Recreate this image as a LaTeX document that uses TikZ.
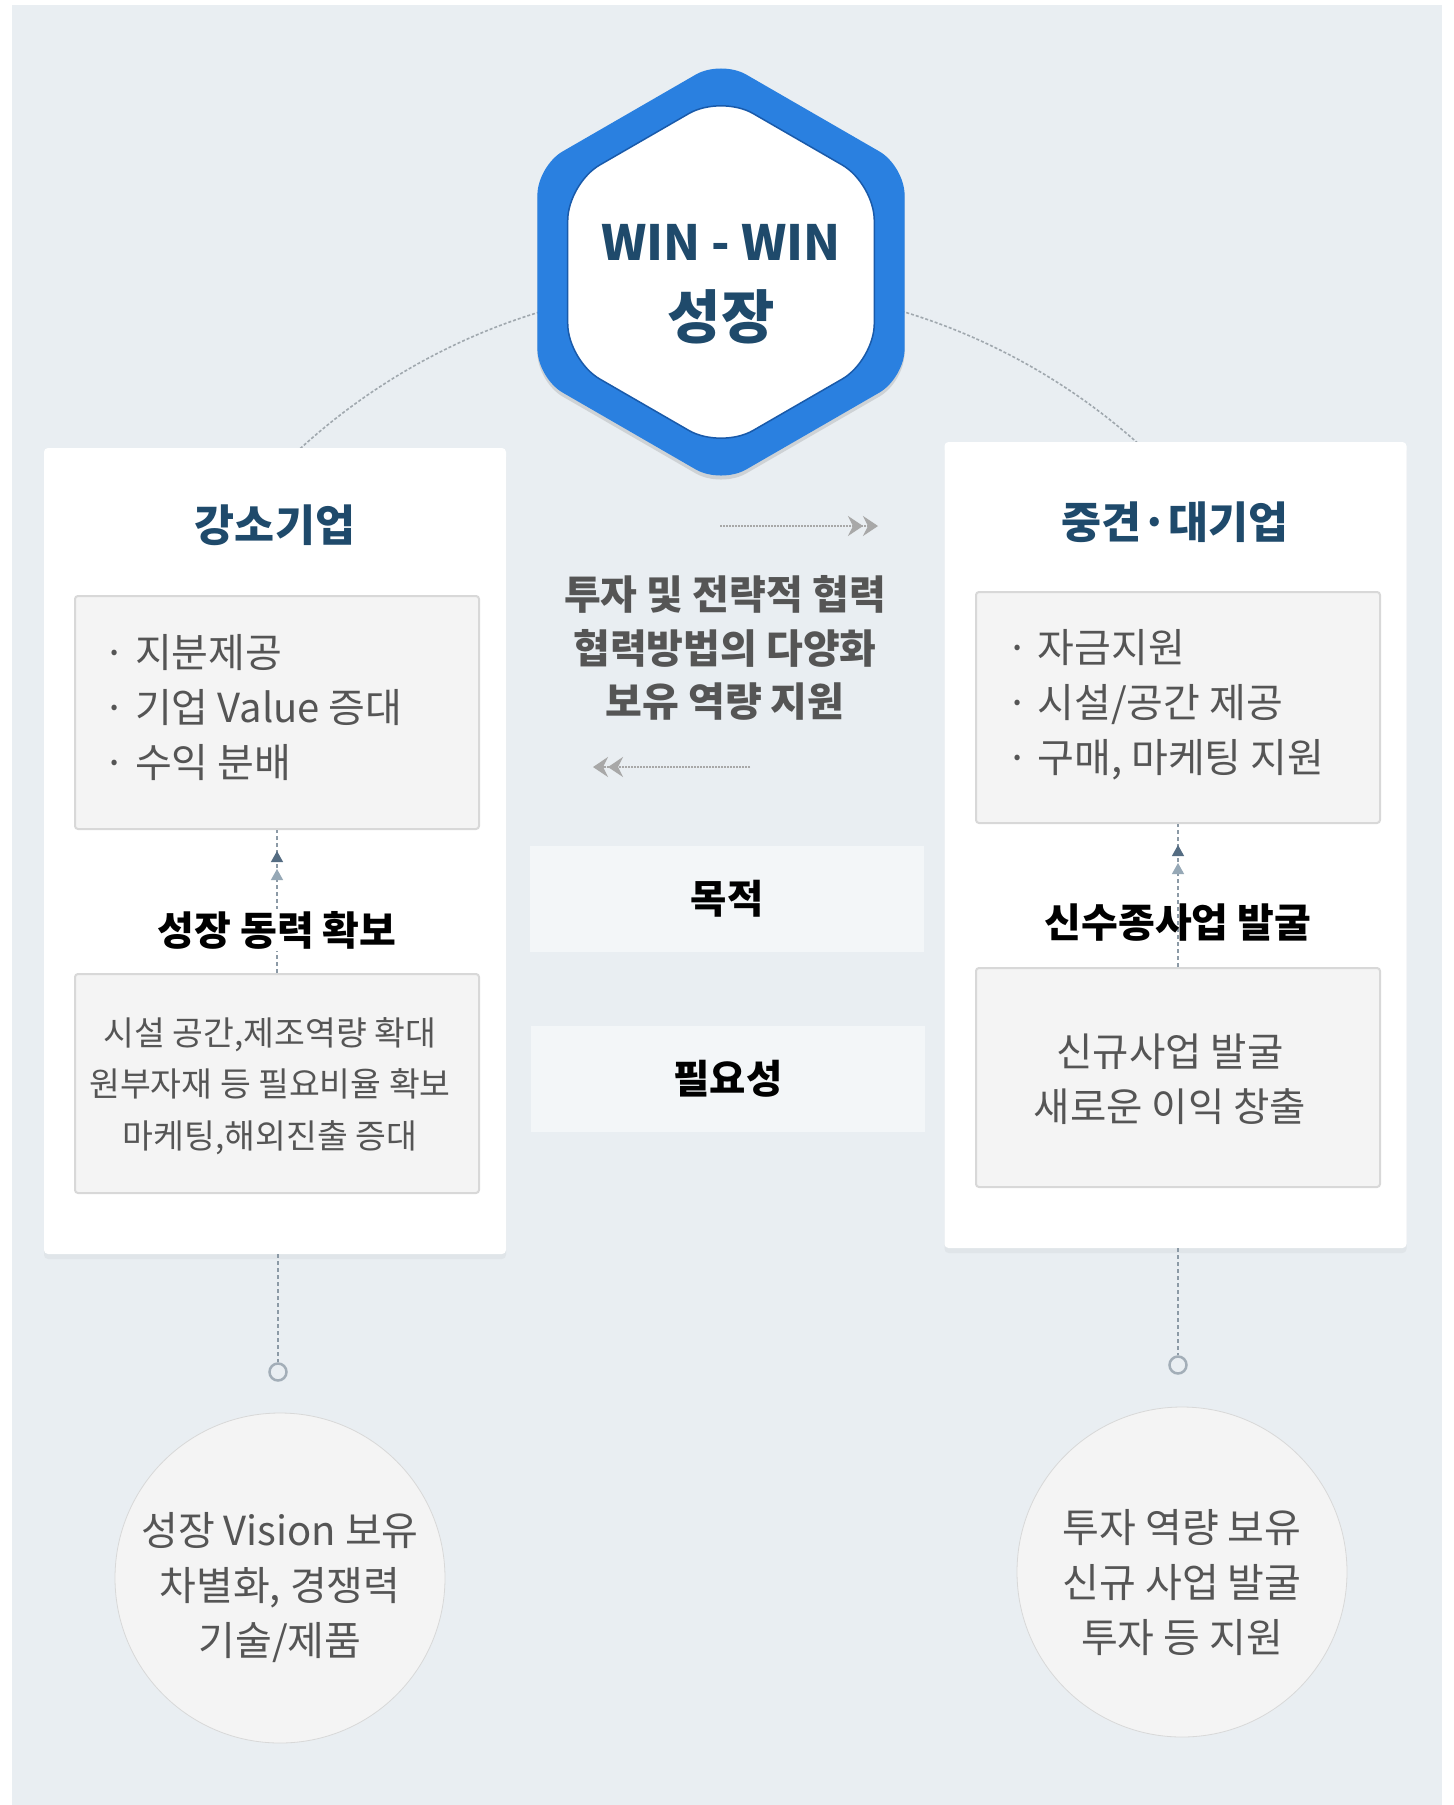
\documentclass[tikz,border=0pt]{standalone}
\usepackage{fontspec}
\setmainfont{Noto Sans CJK KR}
\usepackage{tikz}
\usetikzlibrary{positioning, shapes.geometric}
\usetikzlibrary{arrows.meta, shadows, decorations.markings}
\definecolor{bgblue}{RGB}{233,238,242}
\definecolor{navy}{RGB}{31,74,107}
\definecolor{hexblue}{RGB}{42,128,224}
\definecolor{hexrim}{RGB}{25,90,170}
\definecolor{txtgray}{RGB}{85,85,85}
\definecolor{boxgray}{RGB}{244,244,244}
\definecolor{boxline}{RGB}{216,216,216}
\definecolor{bandgray}{RGB}{243,246,248}
\definecolor{linegray}{RGB}{140,154,166}
\definecolor{arcgray}{RGB}{160,168,174}
\definecolor{tipdark}{RGB}{84,108,130}
\definecolor{tiplight}{RGB}{150,168,182}
\definecolor{chevgray}{RGB}{168,168,168}
\tikzstyle{panel} = [rectangle, rounded corners=4pt, fill=white, minimum width=462pt, minimum height=806pt, drop shadow={shadow xshift=0pt, shadow yshift=-5pt, opacity=.08}]
\tikzstyle{infobox} = [rectangle, rounded corners=3pt, fill=boxgray, draw=boxline, line width=2pt, minimum width=404pt]
\tikzstyle{heading} = [font=\fontsize{43.5}{43.5}\selectfont\bfseries, text=navy]
\tikzstyle{bullets} = [anchor=west, align=left, inner sep=0pt, text=txtgray, font=\fontsize{40}{55}\selectfont]
\tikzstyle{centerlines} = [align=center, inner sep=0pt, text=txtgray, font=\fontsize{40}{55}\selectfont]
\tikzstyle{band} = [rectangle, fill=bandgray, minimum width=394pt, minimum height=106pt, font=\fontsize{39.5}{39.5}\selectfont\bfseries]
\tikzstyle{bubble} = [circle, fill=boxgray, draw=boxline, line width=0.8pt, minimum size=330pt, inner sep=0pt]
\tikzstyle{ring} = [circle, draw=linegray!80, line width=2.5pt, minimum size=17pt, inner sep=0pt]
\tikzstyle{link} = [draw=linegray, line width=1.2pt, dash pattern=on 4pt off 3pt]
\tikzstyle{uplink} = [link, postaction={decorate}, decoration={markings, mark=at position -21pt with {\arrow{Triangle[length=11pt,width=12pt,color=tipdark]}}, mark=at position -39pt with {\arrow{Triangle[length=11pt,width=12pt,color=tiplight]}}}]
\tikzstyle{flowarrow} = [draw=chevgray, line width=1.2pt, dash pattern=on 2pt off 1pt, -{Stealth[length=15pt,width=20pt,inset=5pt]Stealth[length=15pt,width=20pt,inset=5pt]}]

\begin{document}
\begin{tikzpicture}[x=1pt, y=-1pt]
			\useasboundingbox (0,0) rectangle (1454,1805);
			\fill[white] (0,0) rectangle (1454,1805);
			\fill[bgblue] (12,5) rectangle (1442,1805);
			%dashed arc behind the hexagon
			\begin{scope}
				\clip (0,255) rectangle (1454,449);
				\draw[arcgray, line width=1.6pt, dash pattern=on 3pt off 2pt] (722,910.5) circle[radius=625.5];
			\end{scope}
			
			%hexagon
			\node (hexout) [regular polygon, regular polygon sides=6, shape border rotate=30, minimum size=424pt, inner sep=0pt, fill=hexblue, rounded corners=29pt, drop shadow={shadow xshift=0pt, shadow yshift=-4pt, opacity=.25}] at (721,272) {};
			\node (hexin) [regular polygon, regular polygon sides=6, shape border rotate=30, minimum size=354pt, inner sep=0pt, fill=white, draw=hexrim, line width=1.5pt, rounded corners=37pt] at (721,272) {};
			\node (wintop) [text=navy, font=\fontsize{48.5}{48.5}\selectfont\bfseries] at (721,242) {WIN - WIN};
			\node (winbot) [text=navy, font=\fontsize{58}{58}\selectfont\bfseries] at (721,317) {성장};
			
			%left panel
			\node (lpanel) [panel] at (275,851) {};
			\node (ltitle) [heading] at (275,525) {강소기업};
			\node (lbox1) [infobox, minimum height=233pt] at (277,712.5) {};
			\node (lbul) [bullets] at (103.5,707.5) {· 지분제공\\· 기업 Value 증대\\· 수익 분배};
			\node (lbox2) [infobox, minimum height=219pt] at (277,1083.5) {};
			\node (lcap) [centerlines, font=\fontsize{33.5}{51.5}\selectfont] at (270,1086) {시설 공간,제조역량 확대\\원부자재 등 필요비율 확보\\마케팅,해외진출 증대};
			\draw [uplink](lbox2) -- node[pos=0.3, fill=white, inner sep=2pt, font=\fontsize{40}{40}\selectfont\bfseries] (lgoal) {성장 동력 확보} (lbox1);
			\node (ldot) [ring] at (278,1372) {};
			\draw [link](lpanel.south -| ldot) -- (ldot);
			\node (lbubble) [bubble] at (280,1578) {};
			\node (lhave) [centerlines] at (280,1588) {성장 Vision 보유\\차별화, 경쟁력\\기술/제품};
			
			%right panel
			\node (rpanel) [panel] at (1175.5,845) {};
			\node (rtitle) [heading] at (1175,522) {중견·대기업};
			\node (rbox1) [infobox, minimum height=231pt] at (1178,707.5) {};
			\node (rbul) [bullets] at (1006,705) {· 자금지원\\· 시설/공간 제공\\· 구매, 마케팅 지원};
			\node (rbox2) [infobox, minimum height=219pt] at (1178,1077.5) {};
			\node (rcap) [centerlines, font=\fontsize{39.5}{55}\selectfont] at (1170,1079.5) {신규사업 발굴\\새로운 이익 창출};
			\draw [uplink](rbox2) -- node[pos=0.31, font=\fontsize{40}{40}\selectfont\bfseries] (rgoal) {신수종사업 발굴} (rbox1);
			\node (rdot) [ring] at (1178,1365) {};
			\draw [link](rpanel.south -| rdot) -- (rdot);
			\node (rbubble) [bubble] at (1182,1572) {};
			\node (rhave) [centerlines] at (1182,1582) {투자 역량 보유\\신규 사업 발굴\\투자 등 지원};
			
			%middle
			\coordinate (fwdA) at (720,526);
			\coordinate (fwdB) at (878,526);
			\draw [flowarrow](fwdA) -- (fwdB);
			\node (midtxt) [align=center, text=txtgray, font=\fontsize{40}{53.5}\selectfont\bfseries] at (725,648) {투자 및 전략적 협력\\협력방법의 다양화\\보유 역량 지원};
			\coordinate (bwdA) at (750,767);
			\coordinate (bwdB) at (593,767);
			\draw [flowarrow](bwdA) -- (bwdB);
			\node (aim) [band] at (727,898.5) {목적};
			\node (need) [band] at (728,1079) {필요성};
			
		\end{tikzpicture}
\end{document}
